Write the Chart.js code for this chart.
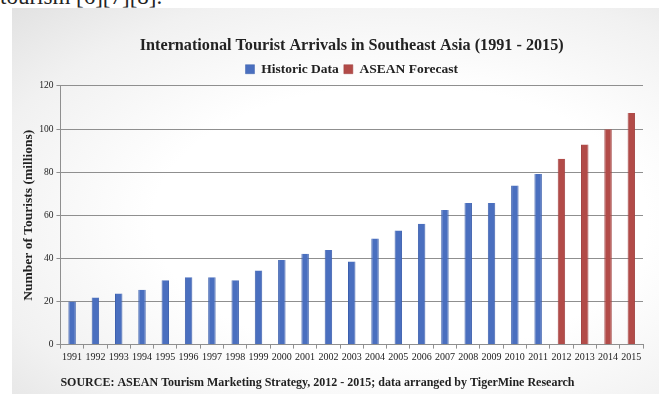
<!DOCTYPE html>
<html>
<head>
<meta charset="utf-8">
<script src="https://cdn.jsdelivr.net/npm/chart.js@4.4.1/dist/chart.umd.min.js"></script>
<style>
  html, body { margin: 0; padding: 0; background: #fff; width: 659px; height: 394px; overflow: hidden; }
  #above {
    position: absolute; left: 0; top: -16px;
    font-family: "Liberation Serif", serif; font-size: 23px; color: #222;
  }
  #slide {
    position: absolute; left: 12px; top: 8px; width: 647px; height: 386px;
    background: radial-gradient(ellipse at 60% 55%, #ffffff 45%, #f1f1f1 78%, #e2e2e2 100%);
  }
</style>
</head>
<body>
<div id="above">tourism [6][7][8].</div>
<div id="slide"><canvas id="tourChart" width="647" height="386"></canvas></div>
<script>
document.addEventListener("DOMContentLoaded", function () {
    const years = ['1991', '1992', '1993', '1994', '1995', '1996', '1997', '1998', '1999', '2000',
        '2001', '2002', '2003', '2004', '2005', '2006', '2007', '2008', '2009', '2010',
        '2011', '2012', '2013', '2014', '2015'];

    // millions of arrivals
    const historic = [20.0, 21.9, 23.7, 25.4, 29.9, 31.3, 31.3, 29.9, 34.4, 39.2,
        42.2, 43.9, 38.5, 49.2, 52.9, 56.1, 62.4, 65.7, 65.7, 73.8,
        79.2, null, null, null, null];
    const forecast = [null, null, null, null, null, null, null, null, null, null,
        null, null, null, null, null, null, null, null, null, null,
        null, 86.2, 92.8, 99.9, 107.4];

    const serif = '"Liberation Serif", "Times New Roman", serif';
    const gridColor = '#8f8f8f';

    const ctx = document.getElementById("tourChart").getContext("2d");
    new Chart(ctx, {
        type: 'bar',
        data: {
            labels: years,
            datasets: [
                { label: 'Historic Data', data: historic, backgroundColor: '#4a6fbf', borderColor: '#3d60ad', borderWidth: { left: 1, right: 1 } },
                { label: 'ASEAN Forecast', data: forecast, backgroundColor: '#b24b48', borderColor: '#a14240', borderWidth: { left: 1, right: 1 } }
            ]
        },
        options: {
            responsive: false,
            animation: false,
            barPercentage: 0.32,
            categoryPercentage: 1,
            layout: { padding: { top: 28, left: 8, right: 16, bottom: 4 } },
            plugins: {
                title: {
                    display: true,
                    fullSize: false,
                    text: 'International Tourist Arrivals in Southeast Asia (1991 - 2015)',
                    color: '#222',
                    font: { family: serif, size: 16.2, weight: 'bold' },
                    padding: { top: 0, bottom: 2 }
                },
                legend: {
                    display: true,
                    fullSize: false,
                    labels: {
                        color: '#222',
                        font: { family: serif, size: 13.5, weight: 'bold' },
                        boxWidth: 9,
                        boxHeight: 9,
                        padding: 5
                    }
                },
                subtitle: {
                    display: true,
                    position: 'bottom',
                    align: 'start',
                    fullSize: false,
                    text: 'SOURCE: ASEAN Tourism Marketing Strategy, 2012 - 2015; data arranged by TigerMine Research',
                    color: '#222',
                    font: { family: serif, size: 12, weight: 'bold' },
                    padding: { top: 9, bottom: 0 }
                },
                tooltip: { enabled: false }
            },
            scales: {
                x: {
                    stacked: true,
                    grid: { display: true, drawOnChartArea: false, offset: true, color: gridColor, tickLength: 4 },
                    border: { color: gridColor },
                    ticks: { color: '#222', font: { family: serif, size: 10 }, maxRotation: 0, autoSkip: false, padding: 3 }
                },
                y: {
                    stacked: true,
                    min: 0,
                    max: 120,
                    ticks: { stepSize: 20, color: '#222', font: { family: serif, size: 9.5 }, padding: 3 },
                    grid: { color: gridColor, tickLength: 4 },
                    border: { color: gridColor },
                    title: {
                        display: true,
                        text: 'Number of Tourists (millions)',
                        color: '#222',
                        font: { family: serif, size: 13.5, weight: 'bold' },
                        padding: { top: 0, bottom: 0 }
                    }
                }
            }
        }
    });
});
</script>
</body>
</html>
